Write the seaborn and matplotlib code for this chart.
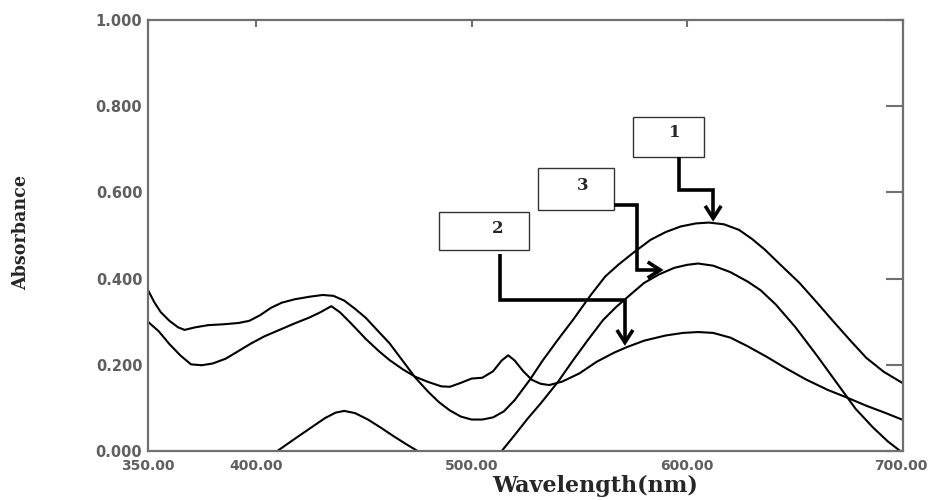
import numpy as np
import pandas as pd
import matplotlib
matplotlib.use("Agg")
import matplotlib.pyplot as plt
import seaborn as sns
from matplotlib.patches import Rectangle, FancyArrowPatch
from matplotlib.path import Path

# ---------------- data ----------------
wl_1 = [350, 353, 356, 360, 364, 367, 372, 378, 385, 392, 397, 402, 407, 412, 418,
        425, 431, 436, 441, 446, 451, 456, 462, 468, 474, 480, 485, 490, 495, 500,
        505, 510, 515, 520, 527, 533, 540, 547, 555, 562, 568, 575, 583, 590, 597,
        604, 610, 617, 624, 630, 636, 643, 652, 660, 668, 676, 683, 691, 700]
abs_1 = [0.374, 0.345, 0.322, 0.302, 0.287, 0.281, 0.287, 0.292, 0.294, 0.297, 0.302,
         0.315, 0.332, 0.344, 0.352, 0.358, 0.362, 0.360, 0.349, 0.330, 0.309, 0.282,
         0.250, 0.210, 0.170, 0.137, 0.113, 0.094, 0.080, 0.073, 0.073, 0.078, 0.092,
         0.118, 0.165, 0.210, 0.258, 0.304, 0.360, 0.405, 0.432, 0.460, 0.490, 0.508,
         0.521, 0.528, 0.530, 0.526, 0.513, 0.492, 0.467, 0.433, 0.390, 0.345, 0.299,
         0.254, 0.216, 0.184, 0.157]

wl_2 = [350, 355, 360, 365, 370, 375, 380, 386, 392, 398, 404, 411, 418, 425, 430,
        435, 439, 444, 451, 457, 462, 468, 474, 480, 486, 490, 495, 500, 505, 510,
        514, 517, 520, 524, 528, 532, 536, 542, 550, 558, 566, 572, 580, 590, 598,
        605, 612, 620, 628, 637, 645, 655, 665, 674, 683, 692, 700]
abs_2 = [0.300, 0.278, 0.248, 0.222, 0.201, 0.199, 0.203, 0.214, 0.232, 0.250, 0.266,
         0.281, 0.296, 0.310, 0.322, 0.336, 0.322, 0.297, 0.260, 0.232, 0.211, 0.190,
         0.172, 0.160, 0.150, 0.149, 0.158, 0.168, 0.170, 0.185, 0.210, 0.222, 0.210,
         0.185, 0.165, 0.156, 0.153, 0.161, 0.180, 0.207, 0.228, 0.241, 0.256, 0.268,
         0.274, 0.276, 0.274, 0.263, 0.243, 0.218, 0.194, 0.166, 0.142, 0.124, 0.105,
         0.088, 0.072]

wl_3 = [395, 410, 418, 425, 432, 437, 441, 446, 452, 458, 464, 470, 475, 485, 500,
        510, 514, 520, 526, 532, 540, 547, 554, 561, 567, 573, 580, 587, 594, 600,
        605, 612, 620, 628, 634, 641, 650, 660, 669, 678, 686, 693, 700]
abs_3 = [-0.060, 0.000, 0.028, 0.052, 0.076, 0.089, 0.093, 0.088, 0.073, 0.054, 0.034,
         0.015, 0.000, -0.040, -0.060, -0.030, 0.000, 0.037, 0.075, 0.110, 0.160, 0.210,
         0.258, 0.304, 0.334, 0.360, 0.390, 0.410, 0.425, 0.432, 0.435, 0.430, 0.415,
         0.393, 0.373, 0.340, 0.288, 0.222, 0.160, 0.098, 0.055, 0.022, -0.005]

curve_labels = ["1", "2", "3"]
x_ticks = [350, 400, 500, 600, 700]
x_tick_labels = ["350.00", "400.00", "500.00", "600.00", "700.00"]
y_ticks = [0.0, 0.2, 0.4, 0.6, 0.8, 1.0]
y_tick_labels = ["0.000", "0.200", "0.400", "0.600", "0.800", "1.000"]

# ---------------- figure ----------------
sns.set_style("white")
plt.rcParams["font.family"] = ["DejaVu Sans"]

fig = plt.figure(figsize=(9.3, 5), dpi=100)
ax = fig.add_axes([0.159, 0.098, 0.812, 0.862])

df = pd.concat([
    pd.DataFrame({"wl": wl_1, "abs": abs_1, "curve": curve_labels[0]}),
    pd.DataFrame({"wl": wl_2, "abs": abs_2, "curve": curve_labels[1]}),
    pd.DataFrame({"wl": wl_3, "abs": abs_3, "curve": curve_labels[2]}),
])
sns.lineplot(data=df, x="wl", y="abs", hue="curve", palette=["black"] * 3,
             estimator=None, sort=False, legend=False, linewidth=1.5, ax=ax)

ax.set_xlim(350, 700)
ax.set_ylim(0, 1)
ax.set_xticks(x_ticks)
ax.set_xticklabels(x_tick_labels)
ax.set_yticks(y_ticks)
ax.set_yticklabels(y_tick_labels)
ax.set_xlabel("")
ax.set_ylabel("")

grey = "#707070"
for s in ax.spines.values():
    s.set_color(grey)
    s.set_linewidth(1.6)
ax.tick_params(axis="both", direction="in", top=True, right=True, color=grey,
               labelcolor="#5f5f5f", width=1.5)
ax.tick_params(axis="x", length=5, pad=6, labelsize=10)
ax.tick_params(axis="y", length=12, pad=4, labelsize=10.5)
for lab in ax.get_xticklabels() + ax.get_yticklabels():
    lab.set_fontweight("bold")
xl = ax.get_xticklabels()
xl[-1].set_horizontalalignment("right")
xl[-1].set_x(700)
# nudge last label so it stays inside the canvas
import matplotlib.transforms as mtrans
xl[-1].set_transform(xl[-1].get_transform() + mtrans.ScaledTranslation(24 / 100, 0, fig.dpi_scale_trans))

fig.text(0.023, 0.536, "Absorbance", rotation=90, ha="center", va="center",
         family="DejaVu Serif", fontstretch="condensed", fontweight="bold", fontsize=14)
fig.text(0.640, 0.028, "Wavelength(nm)", ha="center", va="center",
         family="DejaVu Serif", fontweight="bold", fontsize=16)

# ---------------- annotation boxes and elbow arrows ----------------
boxes = [
    # (x0, y0, w, h, text_x, text_y, label)
    (574.8, 0.682, 32.9, 0.093, 594.3, 0.738, "1"),
    (530.8, 0.559, 35.2, 0.098, 551.7, 0.617, "3"),
    (484.9, 0.466, 41.7, 0.089, 512.3, 0.517, "2"),
]
for x0, y0, w, h, tx, ty, lab in boxes:
    ax.add_patch(Rectangle((x0, y0), w, h, facecolor="white", edgecolor="#333333",
                           linewidth=1.0, zorder=5, clip_on=False))
    ax.text(tx, ty, lab, ha="center", va="center", family="DejaVu Serif",
            fontweight="bold", fontsize=12, zorder=6)

arrows = [
    [(596.2, 0.682), (596.2, 0.606), (612.0, 0.606), (612.0, 0.532)],
    [(566.0, 0.571), (576.7, 0.571), (576.7, 0.420), (589.0, 0.420)],
    [(513.2, 0.458), (513.2, 0.350), (571.1, 0.350), (571.1, 0.244)],
]
for verts in arrows:
    codes = [Path.MOVETO] + [Path.LINETO] * (len(verts) - 1)
    arr = FancyArrowPatch(path=Path(verts, codes),
                          arrowstyle="->,head_length=0.5,head_width=0.32",
                          mutation_scale=18, linewidth=2.6, color="black",
                          joinstyle="miter", capstyle="butt", zorder=7)
    ax.add_patch(arr)

fig.savefig("out.png", dpi=100)
